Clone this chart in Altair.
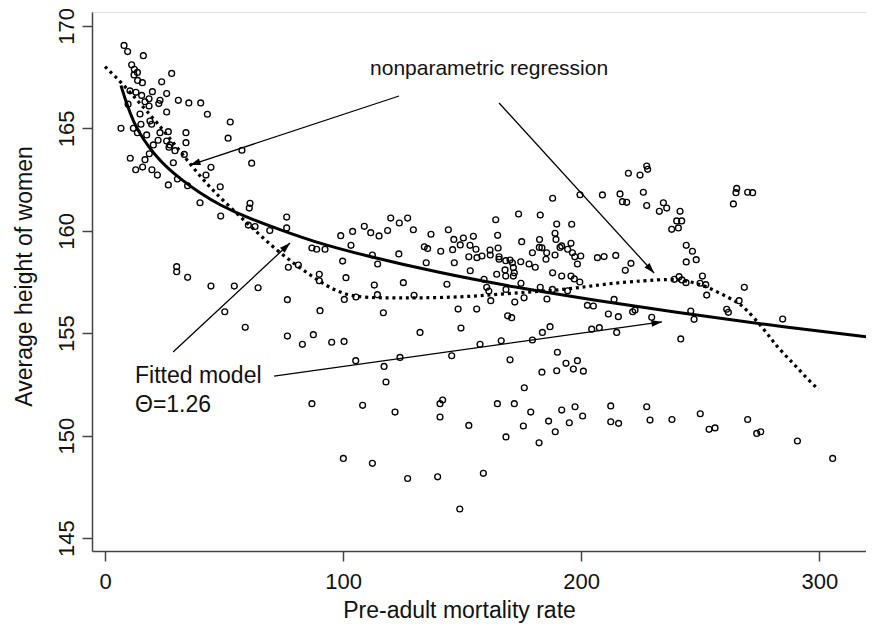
import math
import altair as alt
import pandas as pd

# ---------------- data ----------------
mortality = [
    8.0, 9.5, 16.1, 11.2, 12.3, 13.6, 12.2, 28.0, 13.7, 15.7, 23.8, 19.9, 10.5, 13.0, 15.4, 18.5,
    16.8, 25.9, 23.1, 22.6, 30.8, 35.2, 40.2, 18.5, 9.7, 25.9, 43.0, 52.6, 14.7, 15.1, 18.9, 19.6,
    6.7, 11.9, 13.6, 17.5, 23.1, 26.6, 34.0, 51.7, 22.3, 25.9, 27.3, 34.0, 20.3, 26.9, 29.4, 18.6,
    33.3, 57.5, 10.6, 16.8, 28.7, 12.9, 15.8, 19.7, 22.0, 30.4, 44.5, 61.6, 42.4, 26.6, 34.7, 48.4,
    39.9, 60.9, 60.6, 48.6, 76.3, 76.3, 60.2, 63.0, 69.2, 99.0, 104.0, 103.3, 86.9, 88.9, 92.4, 99.8,
    77.0, 81.2, 34.7, 30.1, 30.1, 44.5, 54.3, 64.3, 90.0, 90.0, 101.2, 105.4, 100.5, 76.6, 90.3, 50.3,
    58.9,
    108.9, 111.6, 115.1, 118.7, 120.0, 123.6, 127.1, 129.5, 112.3, 114.5, 116.9, 113.1, 114.4, 123.4,
    125.3, 129.8, 134.9, 134.1, 135.5, 136.9, 141.0, 144.2, 146.5, 146.0, 149.2, 150.5, 146.7, 143.6,
    148.3, 153.3, 155.8, 154.7, 152.8, 153.4, 156.2, 158.3, 156.1, 159.2, 160.3, 161.2, 161.7, 161.8,
    162.0, 164.1, 164.9, 165.1, 165.5, 165.5, 168.3, 168.0, 168.3, 170.1, 171.1, 171.5, 171.9, 171.5,
    164.5, 168.4, 169.1, 170.8, 172.1, 173.7, 175.0, 174.6, 174.7, 176.0, 178.1, 179.5, 180.7, 182.5,
    182.8, 182.4, 183.5, 182.8, 185.5, 185.2, 185.6, 188.0, 189.0, 189.7, 189.4, 189.0, 188.0, 187.9,
    191.1, 191.8, 191.8, 194.3, 194.3, 195.7, 196.3, 197.3, 196.0, 195.7, 197.1, 198.4, 199.8, 199.4,
    202.6, 205.1, 206.8, 199.5,
    227.5, 227.9, 219.8, 224.7, 208.9, 216.3, 226.1, 217.3, 219.1, 227.5, 234.5, 235.9, 232.8, 241.5,
    240.1, 242.2, 238.0, 240.8, 244.1, 246.7, 244.1, 248.3, 265.3, 265.0, 269.9, 272.0, 263.9, 209.6,
    214.5, 220.9, 218.5, 239.1, 241.1, 242.3, 244.0, 250.9, 249.9, 252.3, 252.7, 268.5, 266.3, 213.8,
    211.4, 215.6, 221.6, 222.6, 229.6, 246.0, 247.4, 261.1, 261.8, 204.4, 207.6, 284.6, 322.0, 214.9,
    241.8,
    193.6, 198.4, 196.7, 200.9, 191.8, 197.4, 200.6, 195.0, 212.4, 212.4, 215.7, 227.5, 228.9, 238.1,
    250.0, 253.7, 256.2, 269.9, 273.7, 275.4, 290.8, 305.6, 76.6, 82.9, 87.5, 95.2, 100.4, 105.3,
    117.2, 118.0, 123.9, 132.3, 145.6, 149.5, 157.5, 166.4, 170.1, 179.5, 183.7, 186.9, 190.0, 183.5,
    189.7, 176.1, 86.9, 108.2, 121.8, 140.7, 141.8, 140.7, 152.8, 164.8, 171.9, 178.8, 175.7, 168.4,
    182.3, 186.3, 189.1, 100.1, 112.3, 127.1, 139.7, 158.9, 149.0,
]
height = [
    169.05, 168.75, 168.55, 168.10, 167.88, 167.73, 167.61, 167.68, 167.34, 167.23, 167.27, 166.79,
    166.83, 166.76, 166.61, 166.44, 166.30, 166.70, 166.37, 166.21, 166.37, 166.24, 166.24, 166.09,
    166.18, 165.80, 165.69, 165.31, 165.70, 165.20, 165.36, 165.20, 165.00, 165.00, 164.79, 164.68,
    164.79, 164.84, 164.79, 164.52, 164.42, 164.38, 164.19, 164.30, 164.19, 164.08, 163.91, 163.76,
    163.73, 163.93, 163.54, 163.47, 163.32, 162.98, 163.11, 162.98, 162.72, 162.53, 163.10, 163.30,
    162.72, 162.24, 162.20, 162.15,
    161.37, 161.34, 161.11, 160.72, 160.67, 160.14, 160.28, 160.21, 160.01, 159.76, 159.97, 159.29,
    159.16, 159.10, 159.10, 158.52, 158.22, 158.33, 157.73, 158.25, 158.00, 157.30, 157.30, 157.22,
    157.88, 157.56, 157.71, 156.77, 156.65, 156.64, 156.10, 156.05, 155.29,
    160.22, 159.91, 159.75, 160.01, 160.62, 160.38, 160.62, 160.05, 158.82, 158.38, 156.00, 157.35,
    156.88, 158.87, 157.47, 156.85, 158.44, 159.22, 159.13, 159.83, 159.00, 160.05, 159.58, 159.08,
    159.31, 159.65, 158.44, 157.39, 156.18, 159.29, 159.10, 159.73, 158.73, 158.05, 158.69, 158.77,
    156.18, 157.63, 157.24, 157.06, 159.06, 158.82, 156.59, 160.54, 159.78, 159.16, 158.73, 158.61,
    158.54, 158.09, 157.79, 158.57, 158.44, 158.20, 157.95, 157.79, 157.88, 157.14, 155.85, 155.76,
    156.52, 160.82, 159.47, 158.49, 157.44, 156.73, 158.38, 158.93, 158.22, 159.57, 160.77, 159.19,
    159.17, 157.24, 158.93, 158.61, 156.67, 161.59, 159.88, 160.33, 159.58, 158.82, 157.95, 157.14,
    159.19, 159.26, 157.79, 157.07, 159.10, 159.39, 158.93, 158.73, 160.32, 157.79, 157.65, 158.38,
    158.77, 157.50, 156.36, 156.33, 158.69, 161.76,
    163.16, 163.00, 162.81, 162.72, 161.75, 161.80, 161.88, 161.42, 161.39, 161.23, 161.37, 161.11,
    160.95, 160.95, 160.48, 160.48, 160.07, 160.14, 159.29, 159.00, 158.48, 158.59, 162.07, 161.86,
    161.88, 161.86, 161.31, 158.74, 158.80, 158.41, 158.07, 157.63, 157.76, 157.60, 157.47, 157.79,
    157.44, 157.37, 156.86, 157.24, 156.59, 156.65, 155.94, 155.81, 156.05, 156.13, 155.78, 156.08,
    155.68, 156.17, 156.02, 155.20, 155.27, 155.69, 154.46, 155.04, 154.72,
    153.53, 153.66, 153.25, 153.15, 151.25, 151.41, 150.96, 150.63, 151.45, 150.68, 150.60, 151.41,
    150.76, 150.79, 151.07, 150.31, 150.38, 150.79, 150.11, 150.19, 149.74, 148.89, 154.86, 154.46,
    154.93, 154.56, 154.60, 153.66, 153.38, 152.62, 153.82, 155.04, 153.90, 155.25, 154.46, 154.63,
    153.70, 154.67, 155.04, 155.32, 154.07, 153.10, 153.17, 152.34, 151.56, 151.48, 151.15, 151.56,
    151.74, 150.91, 150.50, 151.56, 151.56, 151.15, 150.47, 149.94, 149.65, 150.71, 150.19, 148.89,
    148.65, 147.91, 147.99, 148.16, 146.42,
]

fit_x = [6.7, 9.1, 11.9, 16.1, 21.0, 25.9, 31.5, 39.9, 48.3, 59.5, 73.5, 87.5, 107.9, 140.7,
         171.4, 207.9, 241.5, 275.1, 321.3]
fit_y = [167.09, 166.20, 165.32, 164.45, 163.70, 163.10, 162.55, 161.83, 161.25, 160.65, 160.05,
         159.47, 158.82, 157.94, 157.26, 156.57, 155.99, 155.45, 154.81]

np_x = [0.0, 4.2, 9.1, 13.3, 17.5, 22.4, 27.3, 32.8, 38.6, 45.4, 53.8, 62.2, 70.6, 79.0, 87.4,
        95.8, 104.2, 115.5, 132.3, 152.0, 171.4, 192.4, 212.1, 226.0, 237.3, 244.3, 251.3, 258.3,
        265.3, 268.8, 276.5, 282.1, 289.1, 294.7, 299.6]
np_y = [168.01, 167.55, 166.95, 166.40, 165.85, 165.20, 164.50, 163.70, 162.85, 161.95, 161.02,
        160.10, 159.20, 158.43, 157.74, 157.11, 156.78, 156.72, 156.72, 156.77, 156.96, 157.11,
        157.44, 157.56, 157.65, 157.56, 157.35, 156.95, 156.54, 156.23, 155.25, 154.34, 153.53,
        152.80, 152.26]

arrow_x1 = [123.5, 165.5, 28.6, 71.0]
arrow_y1 = [166.58, 166.24, 154.08, 152.91]
arrow_x2 = [35.7, 230.6, 77.7, 233.9]
arrow_y2 = [163.21, 157.94, 159.40, 155.55]

label_text = ["nonparametric regression", "Fitted model", "\u0398=1.26"]
label_x = [111.3, 12.6, 12.6]
label_y = [167.61, 152.55, 151.17]
label_size = [21, 23, 23]

x_ticks = [0, 100, 200, 300]
y_ticks = [145, 150, 155, 160, 165, 170]

# ---------------- layout ----------------
X_DOMAIN = [-5.46, 319.6]
Y_DOMAIN = [144.37, 170.68]
W, H = 774, 539
FONT = "Liberation Sans"

px_x = W / (X_DOMAIN[1] - X_DOMAIN[0])
px_y = H / (Y_DOMAIN[1] - Y_DOMAIN[0])

pts = pd.DataFrame({"x": mortality, "y": height})
fit = pd.DataFrame({"x": fit_x, "y": fit_y})
npr = pd.DataFrame({"x": np_x, "y": np_y})
angles = []
for a, b, c, d in zip(arrow_x1, arrow_y1, arrow_x2, arrow_y2):
    ang = math.degrees(math.atan2(-(d - b) * px_y, (c - a) * px_x)) % 360
    angles.append(ang)
arr = pd.DataFrame({"x": arrow_x1, "y": arrow_y1, "x2": arrow_x2, "y2": arrow_y2, "ang": angles})
lab = pd.DataFrame({"x": label_x, "y": label_y, "t": label_text, "s": label_size})

xs = alt.Scale(domain=X_DOMAIN, nice=False, zero=False)
ys = alt.Scale(domain=Y_DOMAIN, nice=False, zero=False)

axis_common = dict(
    grid=False, domainColor="#444444", domainWidth=1.5, tickColor="#444444", tickWidth=1.5,
    tickSize=10, labelFont=FONT, labelColor="#111111", titleFont=FONT, titleColor="#111111",
    titleFontWeight="normal", labelFontSize=22, titleFontSize=23,
)

x_axis = alt.Axis(values=x_ticks, title="Pre-adult mortality rate", labelBaseline="alphabetic",
                  labelPadding=27, titleX=367, titleY=66, titleBaseline="alphabetic",
                  titleAlign="center", titleAnchor="start", **axis_common)
y_axis = alt.Axis(values=y_ticks, title="Average height of women", labelAngle=270,
                  labelAlign="center", labelBaseline="alphabetic", labelPadding=9,
                  titleAngle=270, titleX=-68, titleY=264, titleBaseline="middle",
                  titleAlign="center", titleAnchor="start", **axis_common)

base_pts = alt.Chart(pts).mark_point(shape="circle", size=34, color="black", strokeWidth=1.35,
                                     opacity=1).encode(
    x=alt.X("x:Q", scale=xs, axis=x_axis),
    y=alt.Y("y:Q", scale=ys, axis=y_axis),
)

fit_line = alt.Chart(fit).mark_line(color="black", strokeWidth=3, interpolate="basis").encode(
    x=alt.X("x:Q", scale=xs), y=alt.Y("y:Q", scale=ys))

np_line = alt.Chart(npr).mark_line(color="black", strokeWidth=3.2, strokeDash=[3, 3.8],
                                   interpolate="basis").encode(
    x=alt.X("x:Q", scale=xs), y=alt.Y("y:Q", scale=ys))

arrow_lines = alt.Chart(arr).mark_rule(color="black", strokeWidth=1.3).encode(
    x=alt.X("x:Q", scale=xs), y=alt.Y("y:Q", scale=ys), x2="x2:Q", y2="y2:Q")

arrow_heads = alt.Chart(arr).mark_point(
    shape="M0,0L-1,-0.33L-1,0.33Z", size=440, filled=True, color="black", opacity=1,
    strokeWidth=0).encode(
    x=alt.X("x2:Q", scale=xs), y=alt.Y("y2:Q", scale=ys), angle=alt.Angle("ang:Q", scale=None))

labels = alt.Chart(lab).mark_text(align="left", baseline="alphabetic", font=FONT,
                                  color="#111111").encode(
    x=alt.X("x:Q", scale=xs), y=alt.Y("y:Q", scale=ys), text="t:N",
    size=alt.Size("s:Q", scale=None))

chart = alt.layer(base_pts, fit_line, np_line, arrow_lines, arrow_heads, labels).properties(
    width=W, height=H, autosize="none",
    padding={"left": 84, "top": 4, "right": 0, "bottom": 76},
).configure_view(stroke=None).configure(font=FONT, background="white")

chart.save("out.html", embed_options={"renderer": "svg", "actions": False})
